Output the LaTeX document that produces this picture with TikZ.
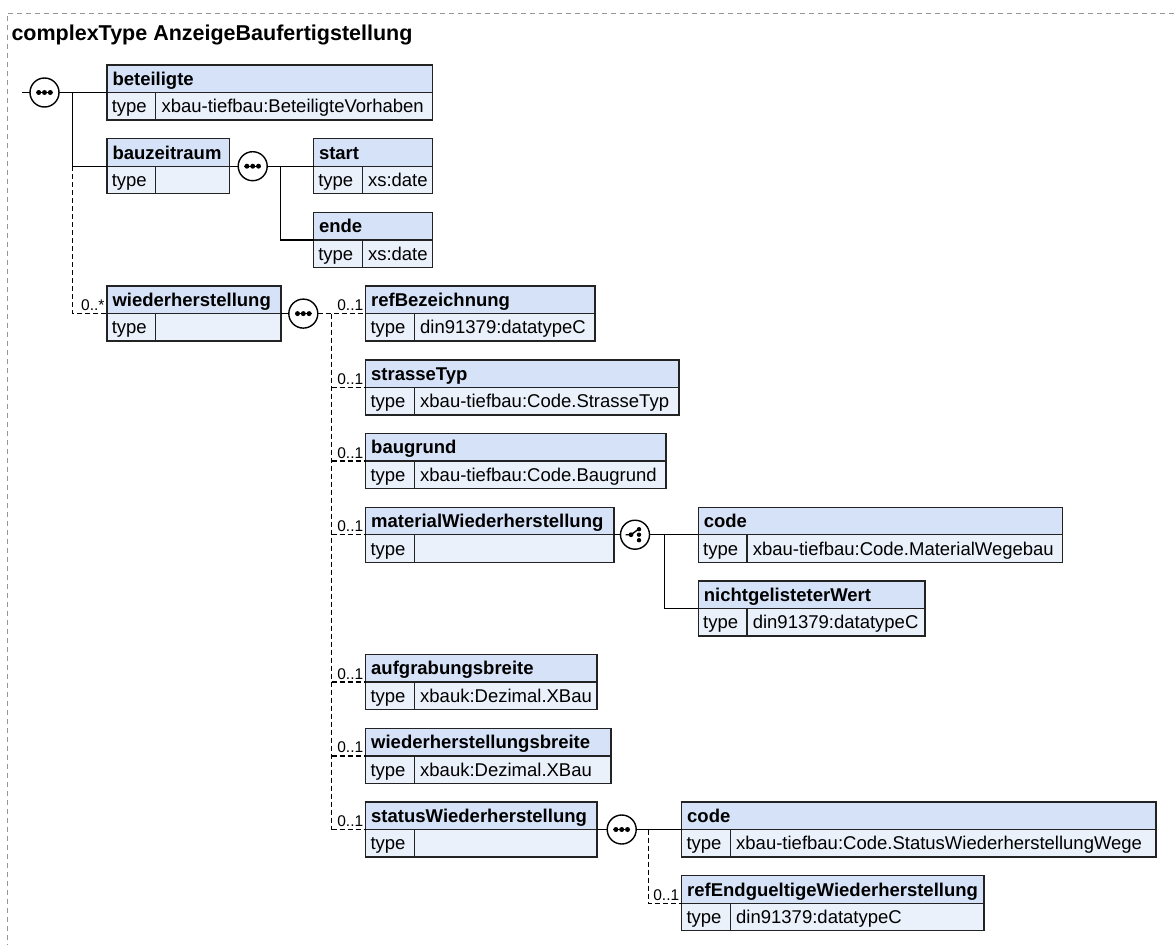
\documentclass[tikz,border=0pt]{standalone}
\usepackage{fontspec}
\setmainfont{Liberation Sans}
\definecolor{hdrc}{RGB}{214,226,247}
\definecolor{rowc}{RGB}{234,241,251}
\definecolor{bordc}{RGB}{35,35,35}
\definecolor{framec}{RGB}{150,150,150}
\tikzset{
  every node/.style={outer sep=0pt, inner sep=0pt},
  hdr/.style={draw=bordc, fill=hdrc, line width=1.4pt, minimum height=27.5pt, anchor=north west},
  rowbox/.style={draw=bordc, fill=rowc, line width=1.4pt, minimum height=27.5pt, anchor=north west},
  nm/.style={font=\fontsize{18.5}{20}\selectfont\bfseries, anchor=base west},
  tx/.style={font=\fontsize{18.5}{20}\selectfont, anchor=base west},
  mult/.style={font=\fontsize{15.5}{16}\selectfont, anchor=base east},
  conn/.style={line width=1.4pt, black},
  opt/.style={conn, dash pattern=on 5pt off 3pt},
  grp/.style={circle, draw, line width=1.4pt, fill=white, minimum size=29pt},
  frame/.style={draw=framec, line width=1pt, dash pattern=on 5pt off 4pt},
}
\newcommand\elbox[6]{%
  \node[hdr, minimum width={#4-#2}] (#1) at (#2,#3) {};
  \node[rowbox, minimum width={#4-#2}] (#1r) at (#1.south west) {};
  \draw[line width=1.4pt, draw=bordc] ([xshift=48.7pt]#1r.north west) -- ([xshift=48.7pt]#1r.south west);
  \node[nm] (#1n) at ([xshift=5.5pt,yshift=-6.6pt]#1.west) {#5};
  \node[tx] (#1t) at ([xshift=4.8pt,yshift=-6.6pt]#1r.west) {type};
  \node[tx] (#1v) at ([xshift=54.5pt,yshift=-6.6pt]#1r.west) {#6};
}
\newcommand\seqicon[1]{%
  \draw[line width=1.4pt] ([xshift=-8.5pt]#1.center) -- ([xshift=8.5pt]#1.center);
  \foreach \d in {-5.8,0,5.8} \fill ([xshift=\d pt]#1.center) circle (2.5pt);
}
\newcommand\choiceicon[1]{%
  \draw[line width=1.4pt] ([xshift=-9.5pt]#1.center) -- ([xshift=-4pt]#1.center) -- ([xshift=3.5pt,yshift=5.5pt]#1.center);
  \fill ([xshift=-4pt]#1.center) circle (2.4pt);
  \foreach \d in {-5.5,0,5.5} \fill ([xshift=4pt,yshift=\d pt]#1.center) circle (2.2pt);
}
\begin{document}
\begin{tikzpicture}[x=1pt,y=-1pt]
\useasboundingbox (0,0) rectangle (1174,945);
\draw[frame] (1174,13) -| (7.5,945);
\node[font=\fontsize{21.5}{24}\selectfont\bfseries, anchor=base west] (title) at (11.5,40) {complexType AnzeigeBaufertigstellung};

% boxes
\elbox{bet}{107}{65}{432.5}{beteiligte}{xbau-tiefbau:BeteiligteVorhaben}
\elbox{bzr}{107}{138.7}{229.5}{bauzeitraum}{}
\elbox{sta}{313.5}{138.7}{432.5}{start}{xs:date}
\elbox{ende}{313.5}{212.4}{432.5}{ende}{xs:date}
\elbox{wie}{107}{286.1}{281}{wiederherstellung}{}
\elbox{ref}{365.7}{286.1}{595}{refBezeichnung}{din91379:datatypeC}
\elbox{str}{365.7}{359.8}{679}{strasseTyp}{xbau-tiefbau:Code.StrasseTyp}
\elbox{bgr}{365.7}{433.5}{666}{baugrund}{xbau-tiefbau:Code.Baugrund}
\elbox{mat}{365.7}{507.2}{614}{materialWiederherstellung}{}
\elbox{mco}{698.3}{507.2}{1062.7}{code}{xbau-tiefbau:Code.MaterialWegebau}
\elbox{ngw}{698.3}{580.9}{925}{nichtgelisteterWert}{din91379:datatypeC}
\elbox{auf}{365.7}{654.6}{597}{aufgrabungsbreite}{xbauk:Dezimal.XBau}
\elbox{wbr}{365.7}{728.3}{611}{wiederherstellungsbreite}{xbauk:Dezimal.XBau}
\elbox{swh}{365.7}{802}{597}{statusWiederherstellung}{}
\elbox{sco}{681.7}{802}{1156}{code}{xbau-tiefbau:Code.StatusWiederherstellungWege}
\elbox{reg}{681.7}{875.7}{984}{refEndgueltigeWiederherstellung}{din91379:datatypeC}

% group symbols
\node[grp] (s1) at (44.5,92.5) {};
\node[grp] (s2) at (252.7,166.2) {};
\node[grp] (s3) at (303.3,313.6) {};
\node[grp] (c1) at (635,534.7) {};
\node[grp] (s4) at (621.7,829.5) {};
\seqicon{s1}\seqicon{s2}\seqicon{s3}\seqicon{s4}
\choiceicon{c1}

% connectors
\coordinate (in) at (22,92.5);
\coordinate (t1) at (72.5,92.5);
\coordinate (t2) at (280.5,166.2);
\coordinate (t3) at (331.5,313.6);
\coordinate (t4) at (664.5,534.7);
\coordinate (t5) at (648.5,829.5);

\draw[conn] (in) -- (s1.west);
\draw[conn] (s1.east) -- (bet.south west);
\draw[conn] (t1) |- (bzr.south west);
\draw[opt] (t1 |- bzr.south west) |- (wie.south west);

\draw[conn] (bzr.south east) -- (s2.west);
\draw[conn] (s2.east) -- (sta.south west);
\draw[conn] (t2) |- (ende.south west);

\draw[conn] (wie.south east) -- (s3.west);
\draw[opt] (s3.east) -- (ref.south west);
\draw[opt] (t3) -- (t3 |- swh.south west);
\foreach \b in {str,bgr,mat,auf,wbr,swh}
  \draw[opt] (t3 |- \b.south west) -- (\b.south west);

\draw[conn] (mat.south east) -- (c1.west);
\draw[conn] (c1.east) -- (mco.south west);
\draw[conn] (t4) |- (ngw.south west);

\draw[conn] (swh.south east) -- (s4.west);
\draw[conn] (s4.east) -- (sco.south west);
\draw[opt] (t5) |- (reg.south west);

% multiplicities
\node[mult] (mwie) at ([xshift=-2.5pt,yshift=3pt]wie.south west) {0..*};
\foreach \b in {ref,str,bgr,mat,auf,wbr,swh,reg}
  \node[mult] (m\b) at ([xshift=-2.5pt,yshift=3pt]\b.south west) {0..1};
\end{tikzpicture}
\end{document}
